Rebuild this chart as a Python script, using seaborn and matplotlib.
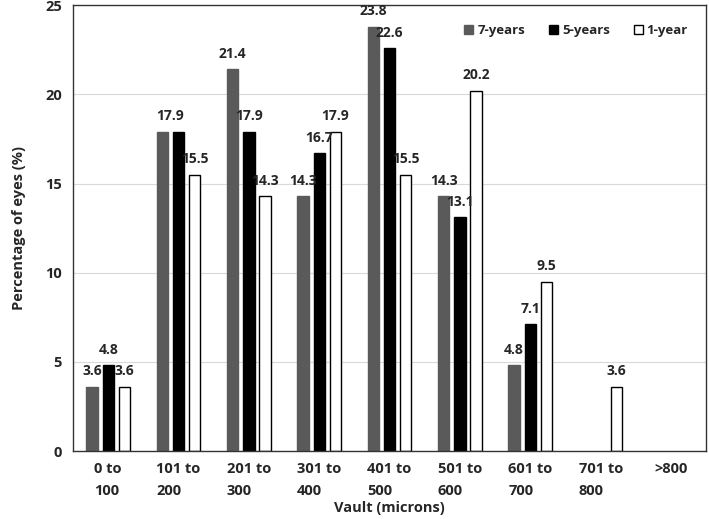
import matplotlib
matplotlib.use("Agg")
import matplotlib.pyplot as plt
from matplotlib.patches import Patch
import seaborn as sns
import pandas as pd

categories = ["0 to\n100", "101 to\n200", "201 to\n300", "301 to\n400", "401 to\n500",
              "501 to\n600", "601 to\n700", "701 to\n800", ">800"]
series = ["7-years", "5-years", "1-year"]
seven_years = [3.6, 17.9, 21.4, 14.3, 23.8, 14.3, 4.8, 0, 0]
five_years = [4.8, 17.9, 17.9, 16.7, 22.6, 13.1, 7.1, 0, 0]
one_year = [3.6, 15.5, 14.3, 17.9, 15.5, 20.2, 9.5, 3.6, 0]

rows = []
for name, vals in zip(series, [seven_years, five_years, one_year]):
    for cat, v in zip(categories, vals):
        rows.append({"Vault": cat, "Group": name, "Pct": v})
df = pd.DataFrame(rows)

sns.set_style("white")
plt.rcParams["font.family"] = ["Open Sans", "DejaVu Sans"]
plt.rcParams["font.weight"] = "bold"

colors = {"7-years": "#5a5a5a", "5-years": "black", "1-year": "white"}
edges = {"7-years": "#5a5a5a", "5-years": "black", "1-year": "black"}

fig = plt.figure(figsize=(7.09, 5.19), dpi=100)
ax = fig.add_axes([0.103, 0.131, 0.893, 0.859])

sns.barplot(data=df, x="Vault", y="Pct", hue="Group", hue_order=series,
            palette=colors, width=0.69, gap=0.3, ax=ax, legend=False)

conts = list(ax.containers)
for cont, name in zip(conts, series):
    for bar in cont:
        bar.set_edgecolor(edges[name])
        bar.set_linewidth(1.0)
        if bar.get_height() <= 0:
            bar.set_visible(False)

# value labels (one shared label where two neighbouring bars are equal)
for i in range(len(categories)):
    bars = [c[i] for c in conts]
    skip = set()
    for j in range(len(bars) - 1):
        if bars[j].get_height() > 0 and bars[j].get_height() == bars[j + 1].get_height():
            x0 = bars[j].get_x() + bars[j].get_width() / 2
            x1 = bars[j + 1].get_x() + bars[j + 1].get_width() / 2
            ax.annotate(f"{bars[j].get_height():.1f}", ((x0 + x1) / 2, bars[j].get_height()),
                        xytext=(0, 6), textcoords="offset points",
                        ha="center", va="bottom", fontsize=10, fontweight="bold")
            skip.update([j, j + 1])
    for j, bar in enumerate(bars):
        h = bar.get_height()
        if h > 0 and j not in skip:
            ax.annotate(f"{h:.1f}", (bar.get_x() + bar.get_width() / 2, h),
                        xytext=(0, 6), textcoords="offset points",
                        ha="center", va="bottom", fontsize=10, fontweight="bold")

ax.set_ylim(0, 25)
ax.set_yticks([0, 5, 10, 15, 20, 25])
ax.set_xlim(-0.5, len(categories) - 0.5)
ax.yaxis.grid(True, color="#d9d9d9", linewidth=0.8)
ax.set_axisbelow(True)
for s in ax.spines.values():
    s.set_visible(True)
    s.set_color("#333333")
    s.set_linewidth(1.0)

ax.tick_params(axis="both", length=0, labelsize=10.5, pad=8)
ax.set_xticks(range(len(categories)))
ax.set_xticklabels(categories, fontweight="bold", linespacing=1.7, multialignment="left")
for t in ax.get_yticklabels():
    t.set_fontweight("bold")
ax.set_xlabel("Vault (microns)", fontsize=10.5, fontweight="bold", labelpad=2)
ax.set_ylabel("Percentage of eyes (%)", fontsize=10.5, fontweight="bold", labelpad=14)

handles = [Patch(facecolor=colors[n], edgecolor=edges[n], linewidth=1.0, label=n) for n in series]
ax.legend(handles=handles, loc="upper right", ncol=3, frameon=False,
          bbox_to_anchor=(0.99, 0.985), handlelength=0.7, handleheight=0.7,
          handletextpad=0.3, columnspacing=1.8, prop={"weight": "bold", "size": 9.5})

fig.savefig("out.png", dpi=100)
